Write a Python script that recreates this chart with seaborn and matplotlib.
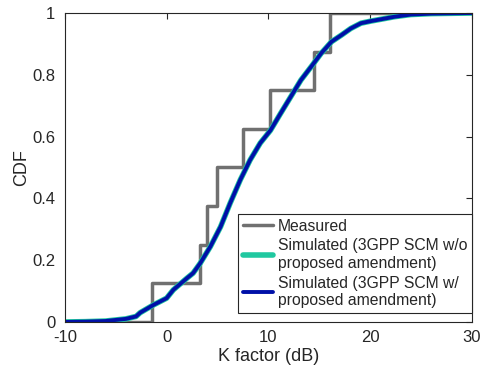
import numpy as np
import pandas as pd
import seaborn as sns
import matplotlib.pyplot as plt

# Measured K factor CDF (step function, 8 samples)
meas_k = [-10, -1.46, 3.3, 3.96, 4.94, 7.5, 10.13, 14.46, 16.04, 30]
meas_cdf = [0, 0.125, 0.25, 0.375, 0.5, 0.625, 0.75, 0.875, 1.0, 1.0]

# Simulated CDF
sim_k = [-10, -8, -6, -4, -3, -2.6, -1.3, 0.0, 0.66, 1.97, 2.6, 3.3, 4.3, 5.3,
         6.25, 7.24, 8.2, 9.2, 10.2, 11.2, 12.2, 13.2, 14.2, 15.2, 16.2, 17.2,
         18.1, 19.1, 20.1, 21.1, 22.4, 24, 26, 28, 30]
sim_cdf = [0.0, 0.001, 0.003, 0.01, 0.018, 0.03, 0.055, 0.077, 0.104, 0.141,
           0.158, 0.19, 0.244, 0.308, 0.385, 0.46, 0.524, 0.579, 0.62, 0.675,
           0.729, 0.783, 0.826, 0.87, 0.907, 0.929, 0.95, 0.967, 0.974, 0.98,
           0.988, 0.995, 0.998, 0.999, 1.0]

labels = ["Measured",
          "Simulated (3GPP SCM w/o\nproposed amendment)",
          "Simulated (3GPP SCM w/\nproposed amendment)"]

sns.set_style("white")
plt.rcParams['font.family'] = ['Liberation Sans', 'DejaVu Sans']
plt.rcParams['axes.unicode_minus'] = False

fig = plt.figure(figsize=(4.84, 3.77), dpi=100)
ax = fig.add_axes([0.134, 0.146, 0.841, 0.8195])

meas_df = pd.DataFrame({"k": meas_k, "cdf": meas_cdf})
sim_df = pd.DataFrame({"k": sim_k, "cdf": sim_cdf})

sns.lineplot(data=meas_df, x="k", y="cdf", ax=ax, color="#707070", linewidth=2.5,
             drawstyle="steps-post", sort=False, estimator=None, label=labels[0])
sns.lineplot(data=sim_df, x="k", y="cdf", ax=ax, color="#20c8a0", linewidth=4,
             sort=False, estimator=None, label=labels[1])
sns.lineplot(data=sim_df, x="k", y="cdf", ax=ax, color="#0010a8", linewidth=2.8,
             sort=False, estimator=None, label=labels[2])

ax.set_xlim(-10, 30)
ax.set_ylim(0, 1)
ax.set_xticks([-10, 0, 10, 20, 30])
ax.set_yticks([0, 0.2, 0.4, 0.6, 0.8, 1])
ax.set_yticklabels(["0", "0.2", "0.4", "0.6", "0.8", "1"])
ax.tick_params(direction="in", length=4, width=0.8, top=True, right=True,
               labelsize=12, colors="#262626")
ax.tick_params(axis="y", pad=7)
ax.tick_params(axis="x", pad=6)
for sp in ax.spines.values():
    sp.set_color("#262626")
    sp.set_linewidth(0.8)
ax.set_xlabel("K factor (dB)", fontsize=13, color="#262626", labelpad=2)
ax.set_ylabel("CDF", fontsize=13, color="#262626", labelpad=1)

leg = ax.legend(loc="lower right", bbox_to_anchor=(1.0, 0.03), borderaxespad=0,
                fontsize=11.3, handlelength=1.9, handletextpad=0.3,
                labelspacing=0.3, borderpad=0.3, fancybox=False, framealpha=1)
leg.get_frame().set_edgecolor("#262626")
leg.get_frame().set_linewidth(0.8)

fig.savefig("out.png", dpi=100)
